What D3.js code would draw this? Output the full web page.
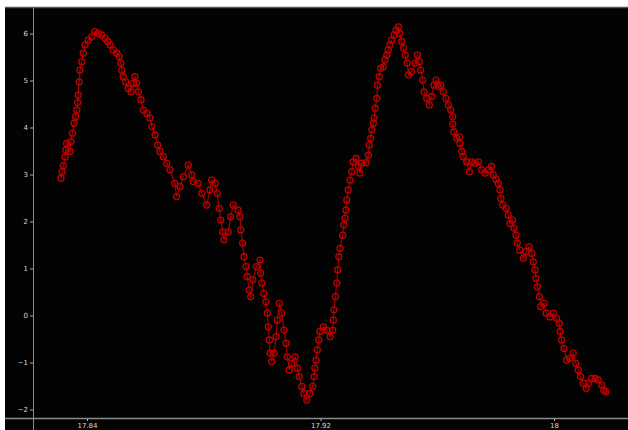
<!DOCTYPE html>
<html>
<head>
<meta charset="utf-8">
<script src="https://cdn.jsdelivr.net/npm/d3@7"></script>
<style>
  html, body { margin: 0; padding: 0; background: #ffffff; }
  svg { display: block; }
</style>
</head>
<body>
<svg id="chart" width="628" height="430"></svg>
<script>
// ---- data ----
const xValues = [
  17.8311,17.8315,17.8319,17.8325,17.8327,17.8330,17.8342,17.8345,17.8350,17.8356,
  17.8361,17.8365,17.8368,17.8370,17.8373,17.8376,17.8382,17.8387,17.8393,17.8404,
  17.8416,17.8427,17.8439,17.8450,17.8462,17.8471,17.8479,17.8490,17.8502,17.8510,
  17.8516,17.8519,17.8524,17.8533,17.8541,17.8551,17.8559,17.8564,17.8570,17.8576,
  17.8585,17.8593,17.8605,17.8616,17.8622,17.8633,17.8642,17.8650,17.8661,17.8673,
  17.8684,17.8701,17.8707,17.8719,17.8730,17.8747,17.8759,17.8764,17.8781,17.8793,
  17.8810,17.8821,17.8827,17.8839,17.8846,17.8853,17.8858,17.8865,17.8869,17.8884,
  17.8892,17.8901,17.8918,17.8924,17.8927,17.8933,17.8938,17.8945,17.8949,17.8956,
  17.8961,17.8968,17.8981,17.8993,17.8995,17.8999,17.9006,17.9013,17.9018,17.9021,
  17.9025,17.9027,17.9033,17.9041,17.9048,17.9052,17.9059,17.9067,17.9075,17.9082,
  17.9086,17.9093,17.9101,17.9113,17.9121,17.9127,17.9136,17.9143,17.9153,17.9164,
  17.9173,17.9178,17.9181,17.9185,17.9189,17.9194,17.9198,17.9210,17.9221,17.9233,
  17.9242,17.9244,17.9246,17.9251,17.9256,17.9259,17.9263,17.9267,17.9276,17.9280,
  17.9284,17.9287,17.9290,17.9295,17.9301,17.9307,17.9312,17.9322,17.9330,17.9335,
  17.9341,17.9356,17.9364,17.9367,17.9372,17.9376,17.9381,17.9384,17.9387,17.9393,
  17.9395,17.9401,17.9406,17.9415,17.9421,17.9427,17.9432,17.9438,17.9444,17.9452,
  17.9459,17.9467,17.9472,17.9478,17.9484,17.9490,17.9497,17.9501,17.9512,17.9524,
  17.9532,17.9538,17.9543,17.9550,17.9555,17.9564,17.9573,17.9581,17.9589,17.9596,
  17.9604,17.9612,17.9621,17.9630,17.9638,17.9646,17.9653,17.9653,17.9657,17.9667,
  17.9676,17.9678,17.9684,17.9689,17.9701,17.9710,17.9718,17.9729,17.9741,17.9752,
  17.9764,17.9775,17.9786,17.9792,17.9801,17.9809,17.9815,17.9818,17.9824,17.9836,
  17.9843,17.9849,17.9858,17.9863,17.9870,17.9874,17.9883,17.9895,17.9904,17.9915,
  17.9924,17.9929,17.9935,17.9938,17.9943,17.9950,17.9954,17.9966,17.9973,17.9986,
  17.9998,18.0009,18.0018,18.0021,18.0026,18.0034,18.0043,18.0055,18.0066,18.0075,
  18.0083,18.0091,18.0100,18.0110,18.0118,18.0129,18.0141,18.0152,18.0164,18.0171,
  18.0178
];
const yValues = [
  2.92,3.06,3.19,3.37,3.52,3.66,3.49,3.70,3.88,4.09,
  4.23,4.37,4.53,4.69,4.97,5.22,5.40,5.58,5.76,5.86,
  5.93,6.04,6.00,5.97,5.90,5.83,5.76,5.65,5.58,5.51,
  5.37,5.22,5.08,4.97,4.83,4.76,4.94,5.08,4.94,4.76,
  4.59,4.37,4.30,4.20,4.02,3.84,3.63,3.49,3.38,3.24,
  3.10,2.81,2.53,2.74,2.95,3.20,2.99,2.85,2.81,2.60,
  2.35,2.67,2.88,2.81,2.60,2.28,2.03,1.78,1.61,1.78,
  2.10,2.35,2.24,2.10,1.82,1.54,1.25,1.04,0.83,0.54,
  0.40,0.76,1.04,1.18,0.90,0.69,0.47,0.29,0.05,-0.24,
  -0.52,-0.80,-0.98,-0.80,-0.45,-0.10,0.26,0.05,-0.31,-0.59,
  -0.88,-1.16,-1.02,-0.88,-1.12,-1.30,-1.51,-1.66,-1.80,-1.66,
  -1.51,-1.30,-1.12,-0.95,-0.73,-0.52,-0.34,-0.24,-0.31,-0.45,
  -0.31,-0.10,0.12,0.40,0.69,0.97,1.25,1.43,1.71,1.93,
  2.07,2.24,2.46,2.67,2.88,3.06,3.27,3.34,3.17,3.03,
  3.24,3.25,3.41,3.63,3.77,3.95,4.09,4.20,4.41,4.62,
  4.90,5.08,5.26,5.29,5.44,5.54,5.65,5.76,5.86,5.97,
  6.07,6.14,6.00,5.83,5.69,5.54,5.37,5.12,5.19,5.37,
  5.54,5.40,5.22,5.01,4.76,4.62,4.48,4.66,4.90,5.01,
  4.87,4.90,4.76,4.62,4.48,4.37,4.23,4.07,3.91,3.77,
  3.80,3.66,3.49,3.38,3.27,3.06,3.27,3.24,3.27,3.10,
  3.03,3.10,3.17,2.99,2.90,2.81,2.67,2.49,2.35,2.28,
  2.14,1.96,2.03,1.86,1.71,1.54,1.39,1.22,1.36,1.46,
  1.32,1.14,0.97,0.79,0.61,0.40,0.19,0.26,0.05,-0.03,
  0.05,-0.06,-0.17,-0.34,-0.52,-0.70,-0.95,-0.91,-0.80,-1.02,
  -1.16,-1.30,-1.44,-1.55,-1.44,-1.34,-1.34,-1.37,-1.48,-1.59,
  -1.62
];
const yTicks = [-2, -1, 0, 1, 2, 3, 4, 5, 6];
const xTicks = [17.84, 17.92, 18.0];
const xTickLabels = ["17.84", "17.92", "18"];

// ---- drawing ----
const W = 628, H = 430;
const svg = d3.select("#chart");

const x = d3.scaleLinear().domain([17.84, 18.0]).range([87, 554]);
const y = d3.scaleLinear().domain([-2, 6]).range([409.5, 33.5]);

const axisX = 33, axisY = 418;

// plot background
svg.append("rect").attr("x", 5).attr("y", 7).attr("width", W - 5).attr("height", H - 7)
  .attr("fill", "#030303");
svg.append("line").attr("x1", 5).attr("x2", W).attr("y1", 7.5).attr("y2", 7.5)
  .attr("stroke", "#555").attr("stroke-width", 1.5);

// axis lines
svg.append("line").attr("x1", axisX + 0.5).attr("x2", axisX + 0.5).attr("y1", 8).attr("y2", H)
  .attr("stroke", "#8a8a8a").attr("stroke-width", 1);
svg.append("line").attr("x1", 5).attr("x2", W).attr("y1", axisY + 0.5).attr("y2", axisY + 0.5)
  .attr("stroke", "#8a8a8a").attr("stroke-width", 1.5);

// y axis
const gy = svg.append("g").attr("transform", `translate(${axisX},0)`)
  .call(d3.axisLeft(y).tickValues(yTicks).tickSize(3).tickPadding(2).tickFormat(d3.format("d")));
gy.select(".domain").remove();
gy.selectAll(".tick line").attr("stroke", "#aaa");
gy.selectAll(".tick text").attr("fill", "#d8d8d8")
  .attr("font-family", "DejaVu Sans, sans-serif").attr("font-size", 7);

// x axis
const gx = svg.append("g").attr("transform", `translate(0,${axisY + 1})`)
  .call(d3.axisBottom(x).tickValues(xTicks).tickSize(2).tickPadding(2)
    .tickFormat((d, i) => xTickLabels[i]));
gx.select(".domain").remove();
gx.selectAll(".tick line").attr("stroke", "#bbb");
gx.selectAll(".tick text").attr("fill", "#d8d8d8")
  .attr("font-family", "DejaVu Sans, sans-serif").attr("font-size", 7);

// series
const pts = xValues.map((v, i) => ({ x: v, y: yValues[i] }));
svg.append("path").datum(pts)
  .attr("fill", "none").attr("stroke", "#a00000").attr("stroke-width", 1.2)
  .attr("d", d3.line().x(d => x(d.x)).y(d => y(d.y)));
svg.append("g").selectAll("circle").data(pts).join("circle")
  .attr("cx", d => x(d.x)).attr("cy", d => y(d.y)).attr("r", 3)
  .attr("fill", "none").attr("stroke", "#c00000").attr("stroke-width", 1.3);
</script>
</body>
</html>
